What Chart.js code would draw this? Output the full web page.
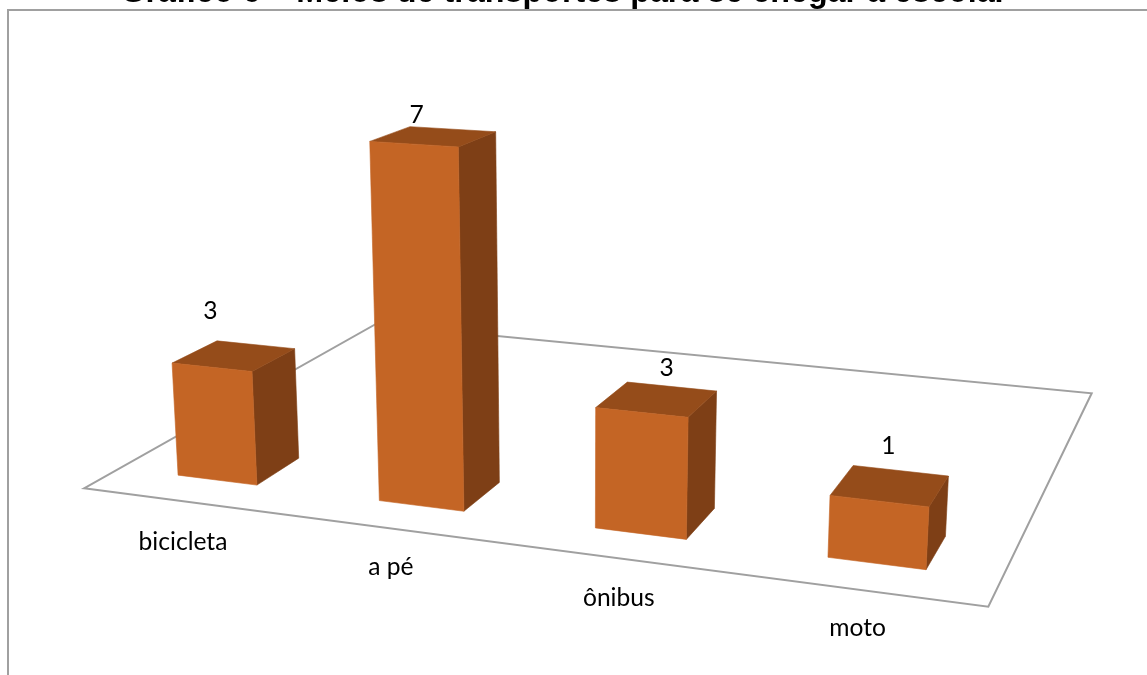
<!DOCTYPE html>
<html lang="pt">
<head>
<meta charset="utf-8">
<title>Meios de transportes</title>
<script src="https://cdn.jsdelivr.net/npm/chart.js@4/dist/chart.umd.js"></script>
<style>
  html, body { margin: 0; padding: 0; background: #fff; overflow: hidden; }
  #frame { position: fixed; left: 7px; top: 9px; right: -4px; bottom: -4px;
           border-left: 2px solid #a0a0a0; border-top: 2px solid #a0a0a0; }
  #wrap { position: fixed; left: 0; top: 0; width: 1124px; height: 675px; }
</style>
</head>
<body>
<div id="frame"></div>
<div id="wrap"><canvas id="chart"></canvas></div>
<script>
const titleText = 'Gráfico 6 – Meios de transportes para se chegar à escola.';
const categories = ['bicicleta', 'a pé', 'ônibus', 'moto'];
const values = [3, 7, 3, 1];

// Axis breaks of the height scale: value -> share of the plot height.
const heightStopValues = [0, 1, 3, 7];
const heightStopShares = [0, 0.16, 0.323, 1];

// Floor of the 3D scene on screen: front-left, front-right, back-right, back-left.
const FLOOR = { x00: 84, y00: 488.3, x10: 988.3, y10: 606.7, x11: 1091.7, y11: 393.3, x01: 375.5, y01: 324.2 };
// Depth range the boxes occupy on the floor, and the point verticals lean away from.
const BOX_FRONT = 0.1, BOX_BACK = 0.234;
const LEAN_X = 578, LEAN_DIST = 7460;
// Hand-placed offsets of the value labels from the centre of each box's top face.
const valueLabelOffsets = [[-23.6, -44.5], [-16.7, -21.7], [9.8, -31], [-1.7, -39.6]];
// Hand-placed offsets of the category labels from the floor's front edge.
const tickLabelOffsets = [[0, 41], [-1, 38], [2, 40], [-2, 38]];

const COLORS = { front: '#c46525', top: '#954c1a', side: '#7e3f16', floor: '#a0a0a0', text: '#000' };
const LABEL_FONT = '24.6px Lato, "Open Sans", sans-serif';

// Square-to-quad homography for the floor plane.
const floorMap = (() => {
  const f = FLOOR;
  const dx1 = f.x10 - f.x11, dx2 = f.x01 - f.x11, sx = f.x00 - f.x10 + f.x11 - f.x01;
  const dy1 = f.y10 - f.y11, dy2 = f.y01 - f.y11, sy = f.y00 - f.y10 + f.y11 - f.y01;
  const den = dx1 * dy2 - dx2 * dy1;
  const g = (sx * dy2 - dx2 * sy) / den, h = (dx1 * sy - sx * dy1) / den;
  const a = f.x10 - f.x00 + g * f.x10, b = f.x01 - f.x00 + h * f.x01;
  const d = f.y10 - f.y00 + g * f.y10, e = f.y01 - f.y00 + h * f.y01;
  return (u, v) => {
    const w = g * u + h * v + 1;
    return { x: (a * u + b * v + f.x00) / w, y: (d * u + e * v + f.y00) / w, scale: 1 / w };
  };
})();

// Lifts a floor point by a scale height, with perspective foreshortening and lean.
function lift(p, height) {
  const H = height * p.scale;
  return { x: p.x + H * (p.x - LEAN_X) / LEAN_DIST, y: p.y - H };
}

function fillFace(ctx, pts, color) {
  ctx.beginPath();
  pts.forEach((p, i) => (i ? ctx.lineTo(p.x, p.y) : ctx.moveTo(p.x, p.y)));
  ctx.closePath();
  ctx.fillStyle = color;
  ctx.strokeStyle = color;
  ctx.lineWidth = 0.6;
  ctx.lineJoin = 'round';
  ctx.fill();
  ctx.stroke();
}

// Linear scale with piecewise stretches between the axis breaks.
class BrokenHeightScale extends Chart.LinearScale {
  static id = 'brokenHeight';
  static defaults = Chart.LinearScale.defaults;
  getPixelForValue(value) {
    const xs = heightStopValues, ys = heightStopShares;
    let i = 0;
    while (i < xs.length - 2 && value > xs[i + 1]) i++;
    const t = (value - xs[i]) / (xs[i + 1] - xs[i]);
    return this.getPixelForDecimal(ys[i] + t * (ys[i + 1] - ys[i]));
  }
  getValueForPixel(pixel) {
    const share = this.getDecimalForPixel(pixel);
    const xs = heightStopValues, ys = heightStopShares;
    let i = 0;
    while (i < ys.length - 2 && share > ys[i + 1]) i++;
    const t = (share - ys[i]) / (ys[i + 1] - ys[i]);
    return xs[i] + t * (xs[i + 1] - xs[i]);
  }
}

// Bar controller that draws each bar element as a box standing on the floor.
class Box3DController extends Chart.BarController {
  static id = 'box3d';
  static defaults = Chart.BarController.defaults;
  static overrides = Chart.BarController.overrides;
  draw() {
    const { ctx, chartArea: area } = this.chart;
    const meta = this.getMeta();
    meta.data.forEach((bar, i) => {
      const u0 = (bar.x - bar.width / 2 - area.left) / area.width;
      const u1 = (bar.x + bar.width / 2 - area.left) / area.width;
      const uc = (u0 + u1) / 2;
      const height = bar.base - bar.y;

      const fl = floorMap(u0, BOX_FRONT), fr = floorMap(u1, BOX_FRONT);
      const bl = floorMap(u0, BOX_BACK), br = floorMap(u1, BOX_BACK);
      const tfl = lift(fl, height), tfr = lift(fr, height);
      const tbl = lift(bl, height), tbr = lift(br, height);

      ctx.save();
      fillFace(ctx, [fr, br, tbr, tfr], COLORS.side);
      fillFace(ctx, [tfl, tfr, tbr, tbl], COLORS.top);
      fillFace(ctx, [fl, fr, tfr, tfl], COLORS.front);

      ctx.font = LABEL_FONT;
      ctx.fillStyle = COLORS.text;
      ctx.textAlign = 'center';
      ctx.textBaseline = 'middle';
      const cx = (tfl.x + tfr.x + tbl.x + tbr.x) / 4;
      const cy = (tfl.y + tfr.y + tbl.y + tbr.y) / 4;
      const off = valueLabelOffsets[i];
      ctx.fillText(String(values[i]), cx + off[0], cy + off[1]);

      const tick = floorMap(uc, 0);
      const tickOff = tickLabelOffsets[i];
      ctx.fillText(categories[i], tick.x + tickOff[0], tick.y + tickOff[1]);
      ctx.restore();
    });
  }
}

const floorPlane = {
  id: 'floorPlane',
  beforeDatasetsDraw(chart) {
    const { ctx } = chart, f = FLOOR;
    ctx.save();
    ctx.beginPath();
    ctx.moveTo(f.x00, f.y00);
    ctx.lineTo(f.x10, f.y10);
    ctx.lineTo(f.x11, f.y11);
    ctx.lineTo(f.x01, f.y01);
    ctx.closePath();
    ctx.lineWidth = 2;
    ctx.strokeStyle = COLORS.floor;
    ctx.lineJoin = 'miter';
    ctx.stroke();
    ctx.restore();
  }
};

Chart.register(BrokenHeightScale, Box3DController);

new Chart(document.getElementById('chart'), {
  type: 'box3d',
  data: {
    labels: categories,
    datasets: [{ label: 'Alunos', data: values, barPercentage: 0.4, categoryPercentage: 1, clip: false }]
  },
  options: {
    responsive: true,
    maintainAspectRatio: false,
    animation: false,
    layout: { padding: { left: 0, right: 0, top: 0, bottom: 202 } },
    plugins: {
      legend: { display: false },
      tooltip: { enabled: false },
      title: {
        display: true,
        text: titleText,
        color: '#000',
        font: { family: '"Liberation Sans", Arial, sans-serif', size: 32.3, weight: 'bold', lineHeight: 1.2 },
        padding: { top: -26, bottom: 107.2 }
      }
    },
    scales: {
      x: { type: 'category', display: false },
      y: { type: 'brokenHeight', display: false, min: 0, max: 7 }
    }
  },
  plugins: [floorPlane]
});
</script>
</body>
</html>
